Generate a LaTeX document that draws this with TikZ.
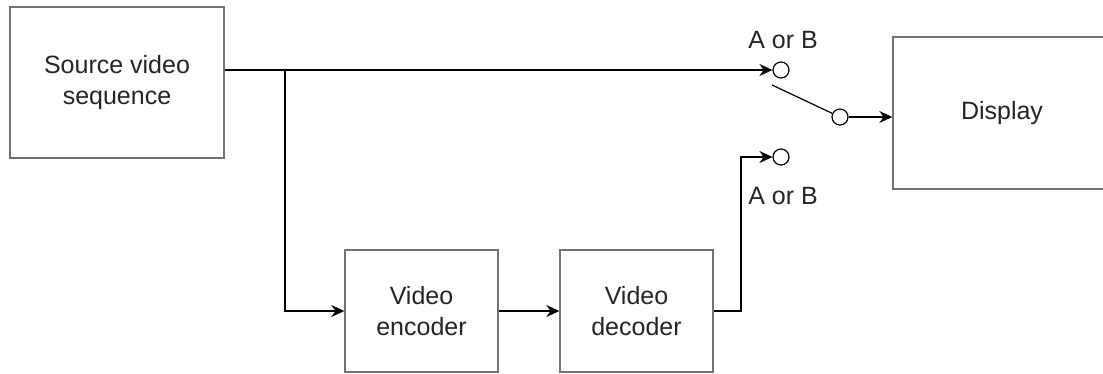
\documentclass[tikz,border=0pt]{standalone}
\usepackage{fontspec}
\setmainfont{Liberation Sans}
\usetikzlibrary{arrows.meta}
\begin{document}
\begin{tikzpicture}[x=0.5pt,y=-0.5pt,
  blk/.style={draw=black!55,line width=0.7pt,inner sep=0pt,align=center,font=\fontsize{12.5}{15.5}\selectfont,text=black!85},
  wire/.style={line width=0.75pt,black},
  arr/.style={wire,-{Stealth[length=6.5pt,width=6pt]}},
  term/.style={circle,draw=black,line width=0.6pt,minimum size=8pt,inner sep=0pt},
  lbl/.style={font=\fontsize{12.5}{15}\selectfont,text=black!85}]
\useasboundingbox (0,0) rectangle (1103,374);
\clip (0,0) rectangle (1103,374);
\node[blk,minimum width=107pt,minimum height=75.5pt] (src) at (117,82.5) {Source video\\sequence};
\node[blk,minimum width=76.5pt,minimum height=61pt] (enc) at (421.5,311) {Video\\encoder};
\node[blk,minimum width=76.5pt,minimum height=61pt] (dec) at (636.5,311) {Video\\decoder};
\node[blk,minimum width=109pt,minimum height=76pt] (disp) at (1002,113) {Display};
\node[term] (ta) at (781,70) {};
\node[term] (tb) at (781,157) {};
\node[term] (tc) at (840,117) {};
\node[lbl] (la) at (783,40) {A or B};
\node[lbl] (lb) at (783,196) {A or B};
\coordinate (br) at (285,70);
\coordinate (sw) at (772,85);
\draw[arr] (src.east |- ta) -- (ta.west);
\draw[arr] (br) |- (enc.west);
\draw[arr] (enc.east) -- (dec.west);
\draw[arr] (dec.east) -| (741,157) -- (tb.west);
\draw[line width=0.6pt] (sw) -- (tc);
\draw[arr] (tc.east) -- (disp.west |- tc);
\end{tikzpicture}
\end{document}
